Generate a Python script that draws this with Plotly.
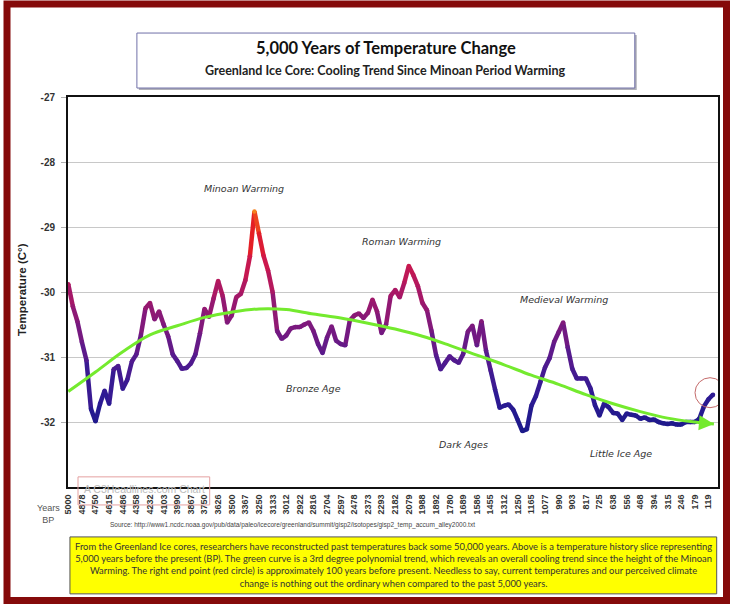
import plotly.graph_objects as go
from plotly.colors import sample_colorscale

# ---------------- data ----------------
years_bp = ["5000", "4878", "4750", "4615", "4486", "4358", "4232", "4103", "3990", "3867",
            "3750", "3626", "3500", "3367", "3250", "3133", "3012", "2922", "2816", "2704",
            "2597", "2478", "2373", "2293", "2182", "2079", "1988", "1892", "1780", "1689",
            "1586", "1455", "1312", "1250", "1165", "1077", "990", "903", "817", "725",
            "638", "556", "468", "394", "315", "246", "179", "119"]

points_per_label = 3

temps = [
    -29.88, -30.22, -30.45, -30.77, -31.05, -31.80, -31.99, -31.72, -31.52, -31.72,
    -31.19, -31.14, -31.49, -31.35, -31.07, -30.96, -30.66, -30.25, -30.17, -30.42,
    -30.30, -30.50, -30.68, -30.96, -31.06, -31.18, -31.17, -31.10, -30.96, -30.64,
    -30.26, -30.38, -30.10, -29.83, -30.06, -30.47, -30.36,
    -30.08, -30.03, -29.82, -29.45, -28.76, -29.10, -29.44, -29.67, -30.00, -30.60,
    -30.72, -30.67, -30.56, -30.54, -30.54, -30.50, -30.47, -30.60, -30.80, -30.94,
    -30.70, -30.53, -30.75, -30.80, -30.82, -30.44, -30.36, -30.33, -30.40, -30.32,
    -30.12, -30.30, -30.63, -30.50, -30.06, -29.97,
    -30.08, -29.86, -29.60, -29.74, -29.91, -30.17, -30.28, -30.60, -30.97, -31.19,
    -31.09, -30.99, -31.05, -31.09, -30.95, -30.61, -30.52, -30.82, -30.45, -30.90,
    -31.20, -31.50, -31.78, -31.75, -31.73, -31.81, -31.97, -32.14, -32.11, -31.75,
    -31.60, -31.38, -31.16, -31.02, -30.77, -30.62,
    -30.47, -30.85, -31.18, -31.33, -31.33, -31.33, -31.48, -31.74, -31.90, -31.72,
    -31.77, -31.86, -31.87, -31.97, -31.87, -31.89, -31.90, -31.95, -31.93, -31.97,
    -31.96, -32.00, -32.02, -32.03, -32.02, -32.04, -32.04, -32.00, -32.00, -32.00,
    -31.95, -31.76, -31.65, -31.58,
]

trend_pos = [0, 2, 4, 6, 8, 10, 12, 14, 16, 18, 20, 22, 24, 26, 28, 30, 32, 34,
             36, 38, 40, 42, 44, 46, 47.4]
trend_vals = [-31.53, -31.23, -30.92, -30.66, -30.52, -30.39, -30.31, -30.26, -30.27,
              -30.34, -30.40, -30.48, -30.57, -30.68, -30.82, -30.97, -31.12, -31.28,
              -31.42, -31.58, -31.72, -31.84, -31.94, -32.00, -32.03]

period_labels = ["Minoan Warming", "Roman Warming", "Medieval Warming",
                 "Bronze Age", "Dark Ages", "Little Ice Age"]
period_pos = [12.9, 24.5, 36.4, 18.0, 29.05, 40.6]
period_vals = [-28.40, -29.23, -30.12, -31.48, -32.35, -32.48]

y_ticks = [-32, -31, -30, -29, -28, -27]
y_tick_labels = ["-32", "-31", "-30", "-29", "-28", "-27"]

title_text = "5,000 Years of Temperature Change"
subtitle_text = "Greenland Ice Core: Cooling Trend Since Minoan Period Warming"
source_text = ("Source: http://www1.ncdc.noaa.gov/pub/data/paleo/icecore/greenland/summit/"
               "gisp2/isotopes/gisp2_temp_accum_alley2000.txt")
note_lines = [
    "From the Greenland Ice cores, researchers have reconstructed past temperatures back some 50,000 years. Above is a temperature history slice representing",
    "5,000 years before the present (BP). The green curve is a 3rd degree polynomial trend, which reveals an overall cooling trend since the height of the Minoan",
    "Warming. The right end point (red circle) is approximately 100 years before present. Needless to say, current temperatures and our perceived climate",
    "change is nothing out the ordinary when compared to the past 5,000 years.",
]

# ---------------- styling helpers ----------------
line_scale = [
    [0.00, "#1c1a8a"],
    [0.16, "#2e1a94"],
    [0.34, "#561a8e"],
    [0.49, "#80197c"],
    [0.63, "#a81866"],
    [0.78, "#d0184a"],
    [0.92, "#e8201e"],
    [1.00, "#f58220"],
]
vmin, vmax = min(temps), max(temps)


def col(v):
    t = (v - vmin) / (vmax - vmin)
    t = max(0.0, min(1.0, t))
    return sample_colorscale(line_scale, [t])[0]


xs = [j / points_per_label for j in range(len(temps))]

fig = go.Figure()

# gradient-coloured temperature line: one segment per pair of points
for i in range(len(temps) - 1):
    fig.add_trace(go.Scatter(
        x=[xs[i], xs[i + 1]], y=[temps[i], temps[i + 1]],
        mode="lines", line=dict(color=col((temps[i] + temps[i + 1]) / 2), width=4.5),
        hoverinfo="skip", showlegend=False))
fig.add_trace(go.Scatter(
    x=xs, y=temps, mode="markers",
    marker=dict(size=4.5, color=[col(v) for v in temps], line=dict(width=0)),
    hoverinfo="skip", showlegend=False))

# trend line
fig.add_trace(go.Scatter(
    x=trend_pos, y=trend_vals, mode="lines", line=dict(color="#74ea2e", width=3, shape="spline"),
    hoverinfo="skip", showlegend=False))

annotations = []
# arrow head at end of trend
annotations.append(dict(x=trend_pos[-1], y=trend_vals[-1], xref="x", yref="y",
                        ax=-12, ay=-1, text="", showarrow=True, arrowhead=2,
                        arrowsize=1.2, arrowwidth=2.5, arrowcolor="#74ea2e"))

for lab, px_, vy in zip(period_labels, period_pos, period_vals):
    annotations.append(dict(x=px_, y=vy, xref="x", yref="y", text="<i>" + lab + "</i>",
                            showarrow=False,
                            font=dict(family="DejaVu Sans", size=9.5, color="#333333"),
                            xanchor="center", yanchor="middle"))

# titles
annotations.append(dict(x=0.489, y=1.125, xref="paper", yref="paper", text="<b>" + title_text + "</b>",
                        showarrow=False, font=dict(family="Lato", size=16.5, color="#111111"),
                        xanchor="center", yanchor="middle"))
annotations.append(dict(x=0.489, y=1.068, xref="paper", yref="paper", text="<b>" + subtitle_text + "</b>",
                        showarrow=False, font=dict(family="Lato", size=12.5, color="#222222"),
                        xanchor="center", yanchor="middle"))
# y axis title
annotations.append(dict(x=0, y=0.505, xref="paper", yref="paper", xshift=-46,
                        text="<b>Temperature (C°)</b>", textangle=-90, showarrow=False,
                        font=dict(family="Liberation Sans", size=11.5, color="#222222"),
                        xanchor="center", yanchor="middle"))
# Years BP
annotations.append(dict(x=0, y=-0.035, xref="paper", yref="paper", xshift=-20,
                        text="Years<br>BP", showarrow=False, align="center",
                        font=dict(family="Liberation Sans", size=9, color="#555555"),
                        xanchor="center", yanchor="top"))
# watermark
annotations.append(dict(x=0.117, y=-0.004, xref="paper", yref="paper",
                        text="A C3Headlines.com Chart", showarrow=False,
                        font=dict(family="Liberation Sans", size=10.5, color="#bcbcbc"),
                        xanchor="center", yanchor="middle"))
# source
annotations.append(dict(x=0.345, y=-0.097, xref="paper", yref="paper", text=source_text,
                        showarrow=False, font=dict(family="Liberation Sans", size=6.5, color="#444444"),
                        xanchor="center", yanchor="middle"))
# note text in yellow box
annotations.append(dict(x=0.5, y=-0.201, xref="paper", yref="paper",
                        text="<br>".join(note_lines), showarrow=False, align="center",
                        font=dict(family="Lato", size=9.4, color="#333333"),
                        xanchor="center", yanchor="middle"))

shapes = [
    # title box shadow and box
    dict(type="rect", xref="paper", yref="paper", x0=0.109, x1=0.875, y0=1.018, y1=1.159,
         line=dict(width=0), fillcolor="#b0b0b8", layer="below"),
    dict(type="rect", xref="paper", yref="paper", x0=0.106, x1=0.872, y0=1.023, y1=1.164,
         line=dict(width=1, color="#7070a8"), fillcolor="white", layer="below"),
    # yellow note box
    dict(type="rect", xref="paper", yref="paper", x0=0.003, x1=0.998, y0=-0.274, y1=-0.128,
         line=dict(width=1, color="#555555"), fillcolor="#ffff00", layer="below"),
    # watermark frame
    dict(type="rect", xref="paper", yref="paper", x0=0.0154, x1=0.218, y0=-0.046, y1=0.026,
         line=dict(width=1, color="#e4a0a0")),
    # red circle round the last point
    dict(type="circle", xref="x", yref="y", xsizemode="pixel", ysizemode="pixel",
         xanchor=xs[-1], yanchor=temps[-1], x0=-18, x1=12, y0=-13, y1=17,
         line=dict(width=1, color="#c46a6a")),
    # outer dark red frame
    dict(type="rect", xref="paper", yref="paper",
         x0=(7 - 68) / 650, x1=(726.5 - 68) / 650, y0=(487 - 600.5) / 390, y1=(487 - 4) / 390,
         line=dict(width=7, color="#850a0a")),
]

fig.update_layout(
    width=730, height=604,
    margin=dict(l=68, r=12, t=97, b=117, autoexpand=False),
    paper_bgcolor="white", plot_bgcolor="white",
    showlegend=False,
    annotations=annotations,
    shapes=shapes,
    xaxis=dict(range=[-0.02, 47.7], tickmode="array",
               tickvals=list(range(len(years_bp))),
               ticktext=["<b>" + t + "</b>" for t in years_bp],
               tickangle=-90, showgrid=False, zeroline=False, automargin=False,
               showline=True, mirror=True, linecolor="#111111", linewidth=2,
               ticks="", tickfont=dict(family="Liberation Sans", size=9, color="#333333"),
               ticklabelstandoff=2),
    yaxis=dict(range=[-33, -27], tickmode="array", tickvals=y_ticks,
               ticktext=["<b>" + t + "</b>" for t in y_tick_labels],
               showgrid=True, gridcolor="#c8c8c8", gridwidth=1, zeroline=False, automargin=False,
               showline=True, mirror=True, linecolor="#111111", linewidth=2,
               ticks="outside", ticklen=5, tickcolor="#b0b0b0",
               tickfont=dict(family="Liberation Sans", size=10, color="#333333"),
               ticklabelstandoff=4),
)

fig.write_html("out.html", config={"displayModeBar": False},
               post_script="document.body.style.margin='0px';document.body.style.overflow='hidden';")
